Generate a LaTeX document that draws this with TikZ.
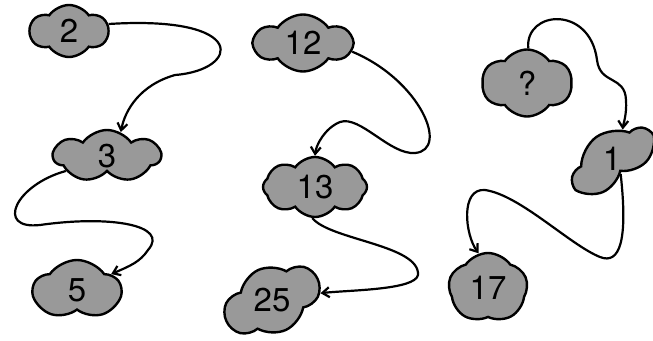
\documentclass[tikz,border=0pt]{standalone}
\usepackage{fontspec}
\setmainfont{TeX Gyre Heros}
\usetikzlibrary{arrows.meta,shapes.symbols}

\begin{document}
\begin{tikzpicture}[
            x=1pt, y=-1pt,
            >={Straight Barb[length=7pt,width=10pt]},
            line width=2.2pt,
            blob/.style={cloud, cloud puffs=6, cloud puff arc=110, cloud ignores aspect,
                draw=black, fill=black!40, line width=2.4pt, inner sep=0pt,
                font=\fontsize{33}{33}\selectfont}
        ]
        \useasboundingbox (0,0) rectangle (653,340);

        % Define clouds
        \node[blob, minimum width=78pt, minimum height=52pt] (c2) at (69,31) {2};
        \node[blob, minimum width=107pt, minimum height=52pt, cloud puffs=7] (c3) at (107,156) {3};
        \node[blob, minimum width=87pt, minimum height=60pt, cloud puffs=5] (c5) at (77,290) {5};
        \node[blob, minimum width=97pt, minimum height=57pt] (c12) at (303,43) {12};
        \node[blob, minimum width=104pt, minimum height=60pt, cloud puffs=8] (c13) at (315,187) {13};
        \node[blob, minimum width=99pt, minimum height=66pt, rotate=25] (c25) at (272,300) {\rotatebox{-25}{25}};
        \node[blob, minimum width=90pt, minimum height=67pt] (cq) at (527,83) {?};
        \node[blob, minimum width=90pt, minimum height=54pt, cloud puffs=5, rotate=35] (c1) at (612,159) {\rotatebox{-35}{1}};
        \node[blob, minimum width=79pt, minimum height=70pt, cloud puffs=5] (c17) at (488,288) {17};

        % Draw links
        \draw[->] (c2.10) .. controls (250,15) and (240,70) .. (175,75)
            .. controls (140,85) and (125,110) .. (c3.60);
        \draw[->] (c3.200) .. controls (15,185) and (-5,230) .. (40,225)
            .. controls (110,215) and (170,225) .. (148,250)
            .. controls (140,262) and (130,266) .. (c5.25);
        \draw[->] (c12.350) .. controls (420,80) and (450,150) .. (415,153)
            .. controls (390,155) and (360,115) .. (340,122)
            .. controls (325,128) and (316,145) .. (c13.90);
        \draw[->] (c13.265) .. controls (330,240) and (420,245) .. (418,275)
            .. controls (415,290) and (350,290) .. (c25.-17);
        \draw[->] (cq.88) .. controls (525,10) and (590,5) .. (597,60)
            .. controls (600,85) and (625,75) .. (626,100)
            .. controls (627,115) and (623,125) .. (c1.35);
        \draw[->] (c1.-95) .. controls (628,240) and (620,265) .. (600,257)
            .. controls (570,245) and (520,195) .. (485,190)
            .. controls (460,188) and (465,235) .. (c17.105);
\end{tikzpicture}
\end{document}
